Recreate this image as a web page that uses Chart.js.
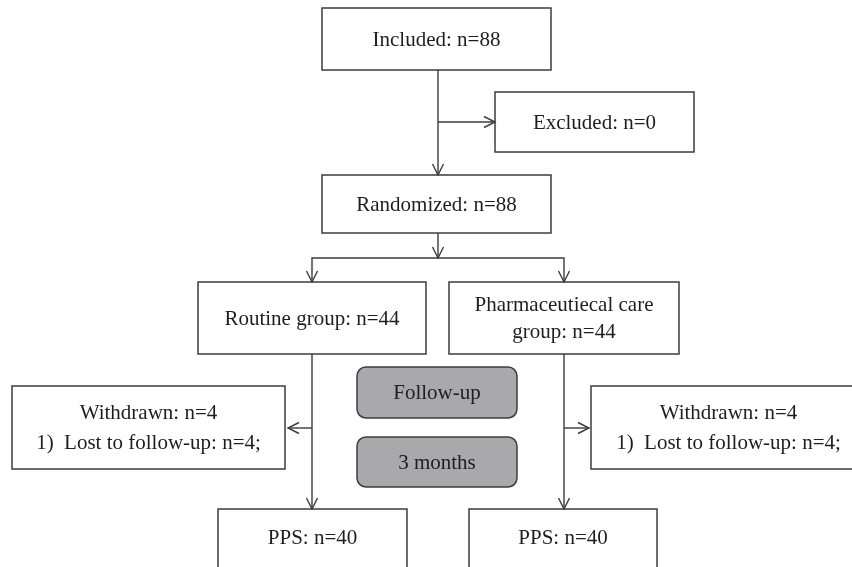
<!DOCTYPE html>
<html>
<head>
<meta charset="utf-8">
<script src="https://cdn.jsdelivr.net/npm/chart.js@4"></script>
<style>
  html, body { margin: 0; padding: 0; background: #fff; }
  #flow { display: block; }
</style>
</head>
<body>
<canvas id="flow" width="852" height="567"></canvas>
<script>
"use strict";
// flow chart content
const stages = ["Included", "Excluded", "Randomized", "Routine group", "Pharmaceutiecal care group", "Withdrawn", "Withdrawn", "PPS", "PPS"];
const counts = [88, 0, 88, 44, 44, 4, 4, 40, 40];
const lostToFollowUp = [4, 4];
const periodLabels = ["Follow-up", "3 months"];

// box geometry [x0, y0, x1, y1] in the chart's own value space
const boxLayout = [
    [322, 8, 551, 70],
    [495, 92, 694, 152],
    [322, 175, 551, 233],
    [198, 282, 426, 354],
    [449, 282, 679, 354],
    [12, 386, 285, 469],
    [591, 386, 866, 469],
    [218, 509, 407, 580],
    [469, 509, 657, 580]
];
const periodLayout = [
    [357, 367, 517, 418],
    [357, 437, 517, 487]
];
// connectors, arrow at the last point
const connectors = [
    [[438, 70], [438, 175]],
    [[438, 122], [495, 122]],
    [[438, 233], [438, 258]],
    [[438, 258], [312, 258], [312, 282]],
    [[438, 258], [564, 258], [564, 282]],
    [[312, 354], [312, 509]],
    [[312, 428], [288, 428]],
    [[564, 354], [564, 509]],
    [[564, 428], [589, 428]]
];

function boxLines(i) {
    if (i === 4) return ["Pharmaceutiecal care", "group: n=" + counts[i]];
    if (i === 5 || i === 6) return [stages[i] + ": n=" + counts[i], "1)  Lost to follow-up: n=" + lostToFollowUp[i - 5] + ";"];
    return [stages[i] + ": n=" + counts[i]];
}

const FONT = '21px "Liberation Serif", "DejaVu Serif", serif';
const INK = "#1e1e1e";
const LINE = "#3c3c3c";

const boxPlugin = {
    id: "boxes",
    beforeDatasetsDraw(chart) {
        const ctx = chart.ctx;
        const sx = chart.scales.x, sy = chart.scales.y;
        ctx.save();
        ctx.lineWidth = 1.5;
        ctx.strokeStyle = LINE;
        boxLayout.forEach((b, i) => {
            const x0 = sx.getPixelForValue(b[0]), y0 = sy.getPixelForValue(b[1]);
            const x1 = sx.getPixelForValue(b[2]), y1 = sy.getPixelForValue(b[3]);
            ctx.fillStyle = "#fff";
            ctx.fillRect(x0, y0, x1 - x0, y1 - y0);
            ctx.strokeRect(x0, y0, x1 - x0, y1 - y0);
            const lines = boxLines(i);
            ctx.fillStyle = INK;
            ctx.font = FONT;
            ctx.textAlign = "center";
            ctx.textBaseline = "middle";
            const cx = (x0 + x1) / 2;
            const cy = (i >= 7 ? y0 + 28 : (y0 + y1) / 2) + 1;
            const gap = i === 4 ? 27 : 30;
            lines.forEach((t, k) => {
                ctx.fillText(t, cx, cy + (k - (lines.length - 1) / 2) * gap);
            });
        });
        periodLayout.forEach((b, i) => {
            const x0 = sx.getPixelForValue(b[0]), y0 = sy.getPixelForValue(b[1]);
            const x1 = sx.getPixelForValue(b[2]), y1 = sy.getPixelForValue(b[3]);
            ctx.beginPath();
            ctx.roundRect(x0, y0, x1 - x0, y1 - y0, 9);
            ctx.fillStyle = "#a9a9ab";
            ctx.fill();
            ctx.stroke();
            ctx.fillStyle = INK;
            ctx.font = FONT;
            ctx.textAlign = "center";
            ctx.textBaseline = "middle";
            ctx.fillText(periodLabels[i], (x0 + x1) / 2, (y0 + y1) / 2 + 1);
        });
        ctx.restore();
    },
    afterDatasetsDraw(chart) {
        const ctx = chart.ctx;
        ctx.save();
        ctx.strokeStyle = LINE;
        ctx.lineWidth = 1.4;
        chart.data.datasets.forEach((ds, di) => {
            const pts = chart.getDatasetMeta(di).data;
            const a = pts[pts.length - 2], b = pts[pts.length - 1];
            const ang = Math.atan2(b.y - a.y, b.x - a.x);
            const len = 11, half = 5.5;
            const bx = b.x - Math.cos(ang) * len, by = b.y - Math.sin(ang) * len;
            const nx = -Math.sin(ang) * half, ny = Math.cos(ang) * half;
            ctx.beginPath();
            ctx.moveTo(bx + nx, by + ny);
            ctx.lineTo(b.x, b.y);
            ctx.lineTo(bx - nx, by - ny);
            ctx.stroke();
        });
        ctx.restore();
    }
};

new Chart(document.getElementById("flow"), {
    type: "line",
    data: {
        datasets: connectors.map(c => ({
            data: c.map(p => ({ x: p[0], y: p[1] })),
            borderColor: LINE,
            borderWidth: 1.4,
            pointRadius: 0,
            fill: false,
            tension: 0
        }))
    },
    options: {
        responsive: false,
        animation: false,
        layout: { padding: 0 },
        scales: {
            x: { type: "linear", min: 0, max: 852, display: false },
            y: { type: "linear", min: 0, max: 567, reverse: true, display: false }
        },
        plugins: {
            legend: { display: false },
            tooltip: { enabled: false }
        }
    },
    plugins: [boxPlugin]
});
</script>
</body>
</html>
